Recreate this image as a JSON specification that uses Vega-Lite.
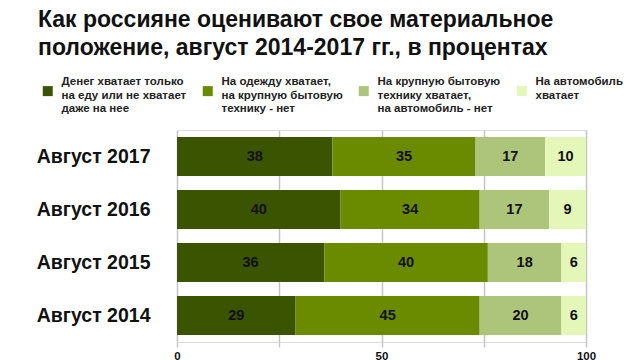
{
  "$schema": "https://vega.github.io/schema/vega-lite/v6.json",
  "width": 409,
  "height": 212,
  "autosize": {"type": "none"},
  "padding": {"left": 177, "top": 130, "right": 54, "bottom": 18},
  "background": "white",
  "title": {
    "text": ["Как россияне оценивают свое материальное", "положение, август 2014-2017 гг., в процентах"],
    "anchor": "start",
    "frame": "group",
    "dx": -139,
    "dy": -16,
    "fontSize": 23,
    "font": "Liberation Sans",
    "fontWeight": "bold",
    "color": "#111111",
    "lineHeight": 28,
    "baseline": "top",
    "offset": 0
  },
  "data": {
    "values": [
      {"year": "Август 2017", "cat": "Денег хватает только на еду или не хватает даже на нее", "idx": 1, "value": 38},
      {"year": "Август 2017", "cat": "На одежду хватает, на крупную бытовую технику - нет", "idx": 2, "value": 35},
      {"year": "Август 2017", "cat": "На крупную бытовую технику хватает, на автомобиль - нет", "idx": 3, "value": 17},
      {"year": "Август 2017", "cat": "На автомобиль хватает", "idx": 4, "value": 10},
      {"year": "Август 2016", "cat": "Денег хватает только на еду или не хватает даже на нее", "idx": 1, "value": 40},
      {"year": "Август 2016", "cat": "На одежду хватает, на крупную бытовую технику - нет", "idx": 2, "value": 34},
      {"year": "Август 2016", "cat": "На крупную бытовую технику хватает, на автомобиль - нет", "idx": 3, "value": 17},
      {"year": "Август 2016", "cat": "На автомобиль хватает", "idx": 4, "value": 9},
      {"year": "Август 2015", "cat": "Денег хватает только на еду или не хватает даже на нее", "idx": 1, "value": 36},
      {"year": "Август 2015", "cat": "На одежду хватает, на крупную бытовую технику - нет", "idx": 2, "value": 40},
      {"year": "Август 2015", "cat": "На крупную бытовую технику хватает, на автомобиль - нет", "idx": 3, "value": 18},
      {"year": "Август 2015", "cat": "На автомобиль хватает", "idx": 4, "value": 6},
      {"year": "Август 2014", "cat": "Денег хватает только на еду или не хватает даже на нее", "idx": 1, "value": 29},
      {"year": "Август 2014", "cat": "На одежду хватает, на крупную бытовую технику - нет", "idx": 2, "value": 45},
      {"year": "Август 2014", "cat": "На крупную бытовую технику хватает, на автомобиль - нет", "idx": 3, "value": 20},
      {"year": "Август 2014", "cat": "На автомобиль хватает", "idx": 4, "value": 6}
    ]
  },
  "transform": [
    {"stack": "value", "groupby": ["year"], "sort": [{"field": "idx", "order": "ascending"}], "as": ["v0", "v1"]},
    {"calculate": "(datum.v0 + datum.v1) / 2", "as": "mid"}
  ],
  "encoding": {
    "y": {
      "field": "year",
      "type": "nominal",
      "sort": ["Август 2017", "Август 2016", "Август 2015", "Август 2014"],
      "scale": {"paddingInner": 0.26, "paddingOuter": 0.13},
      "axis": {
        "title": null,
        "ticks": false,
        "domain": false,
        "labelPadding": 27,
        "labelFontSize": 19.5,
        "labelFontWeight": "bold",
        "labelFont": "Liberation Sans",
        "labelColor": "#111111"
      }
    }
  },
  "layer": [
    {
      "mark": {"type": "bar"},
      "encoding": {
        "x": {
          "field": "v0",
          "type": "quantitative",
          "scale": {"domain": [0, 100], "nice": false},
          "axis": {
            "title": null,
            "values": [0, 25, 50, 75, 100],
            "labelExpr": "datum.value % 50 == 0 ? datum.label : ''",
            "labelFlush": false,
            "grid": true,
            "gridColor": "#c4c4c4",
            "gridWidth": 1.5,
            "tickColor": "#c4c4c4",
            "tickWidth": 1.5,
            "tickSize": 5,
            "domain": false,
            "labelFontSize": 11.5,
            "labelFontWeight": "bold",
            "labelFont": "Liberation Sans",
            "labelColor": "#111111",
            "labelPadding": 3
          }
        },
        "x2": {"field": "v1"},
        "color": {
          "field": "cat",
          "type": "nominal",
          "sort": {"field": "idx"},
          "scale": {
            "domain": [
              "Денег хватает только на еду или не хватает даже на нее",
              "На одежду хватает, на крупную бытовую технику - нет",
              "На крупную бытовую технику хватает, на автомобиль - нет",
              "На автомобиль хватает"
            ],
            "range": ["#3a5402", "#6a8b00", "#acc57b", "#e4f6b8"]
          },
          "legend": {
            "title": null,
            "orient": "none",
            "legendX": -135,
            "legendY": -54,
            "direction": "horizontal",
            "columns": 4,
            "columnPadding": 15,
            "symbolType": "M-1,0.8H1V2.8H-1Z",
            "symbolSize": 100,
            "symbolStrokeWidth": 0,
            "labelFontSize": 11.5,
            "labelLineHeight": 14,
            "labelFontWeight": "bold",
            "labelFont": "Liberation Sans",
            "labelColor": "#222222",
            "labelLimit": 300,
            "labelOffset": 8,
            "labelExpr": "datum.label == 'Денег хватает только на еду или не хватает даже на нее' ? ['Денег хватает только', 'на еду или не хватает', 'даже на нее'] : datum.label == 'На одежду хватает, на крупную бытовую технику - нет' ? ['На одежду хватает,', 'на крупную бытовую', 'технику - нет'] : datum.label == 'На крупную бытовую технику хватает, на автомобиль - нет' ? ['На крупную бытовую', 'технику хватает,', 'на автомобиль - нет'] : ['На автомобиль', 'хватает', ' ']"
          }
        }
      }
    },
    {
      "mark": {"type": "text", "fontSize": 14.5, "fontWeight": "bold", "font": "Liberation Sans", "color": "#111111"},
      "encoding": {
        "x": {"field": "mid", "type": "quantitative"},
        "text": {"field": "value", "type": "quantitative"}
      }
    }
  ]
}
